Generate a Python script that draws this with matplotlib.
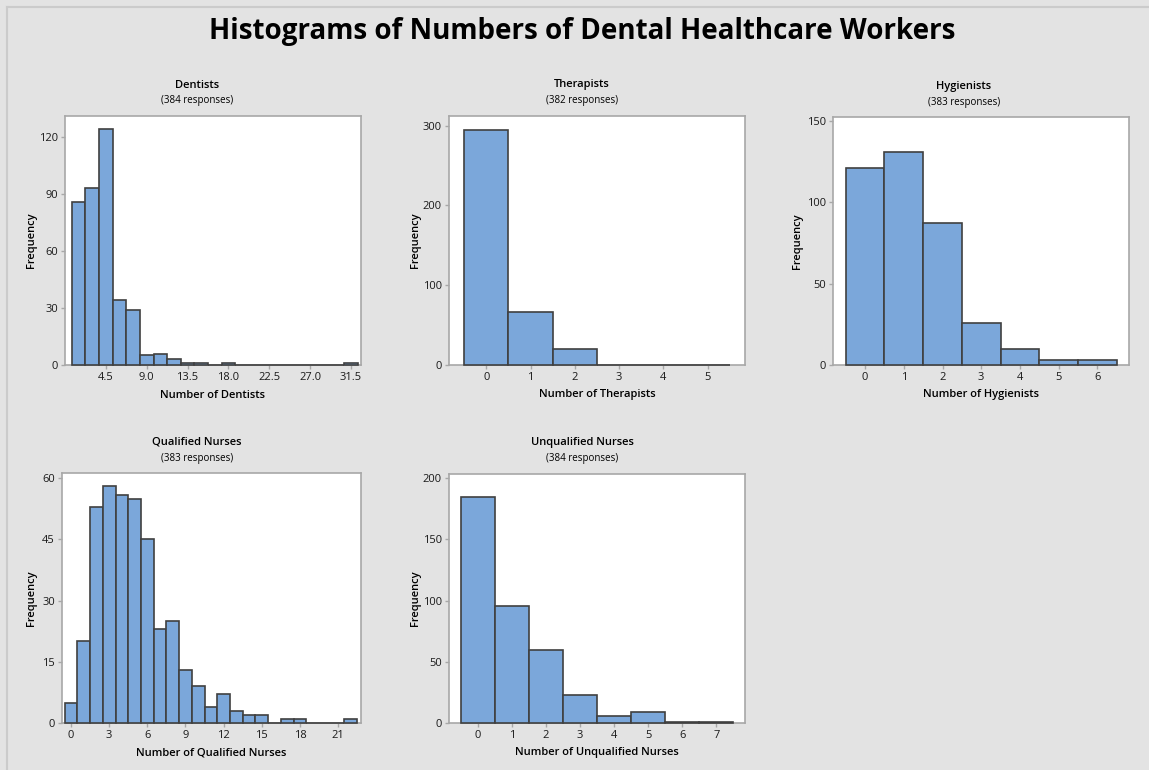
import matplotlib
matplotlib.use('Agg')
import matplotlib.pyplot as plt
from matplotlib.lines import Line2D

plt.rcParams['font.family'] = ['Open Sans', 'DejaVu Sans']

# Bin midpoints and counts
dentists_bins = [1.5, 3.0, 4.5, 6.0, 7.5, 9.0, 10.5, 12.0, 13.5, 15.0, 16.5, 18.0,
                 19.5, 21.0, 22.5, 24.0, 25.5, 27.0, 28.5, 30.0, 31.5]
dentists_counts = [86, 93, 124, 34, 29, 5, 6, 3, 1, 1, 0, 1, 0, 0, 0, 0, 0, 0, 0, 0, 1]

therapists_bins = [0, 1, 2, 3, 4, 5]
therapists_counts = [295, 67, 20, 0, 0, 0]

hygienists_bins = [0, 1, 2, 3, 4, 5, 6]
hygienists_counts = [121, 131, 87, 26, 10, 3, 3]

qualified_bins = list(range(0, 23))
qualified_counts = [5, 20, 53, 58, 56, 55, 45, 23, 25, 13, 9, 4, 7, 3, 2, 2, 0, 1, 1, 0, 0, 0, 1]

unqualified_bins = [0, 1, 2, 3, 4, 5, 6, 7]
unqualified_counts = [185, 96, 60, 23, 6, 9, 1, 1]

titles = ['Dentists', 'Therapists', 'Hygienists', 'Qualified Nurses', 'Unqualified Nurses']
responses = [384, 382, 383, 383, 384]
xlabels = ['Number of Dentists', 'Number of Therapists', 'Number of Hygienists',
           'Number of Qualified Nurses', 'Number of Unqualified Nurses']

W, H = 1149, 770
BG = '#e3e3e3'
BAR = '#7ba7da'
EDGE = '#404040'
FRAME = '#a8a8a8'

fig = plt.figure(figsize=(W / 100, H / 100), dpi=100, facecolor=BG)

# thin border along top and left edge
fig.add_artist(Line2D([7 / W, 1], [1 - 7 / H, 1 - 7 / H], color='#cbcbcb', lw=1.5))
fig.add_artist(Line2D([7 / W, 7 / W], [0, 1 - 7 / H], color='#cbcbcb', lw=1.5))

fig.text(582 / W, 1 - 32 / H, 'Histograms of Numbers of Dental Healthcare Workers',
         ha='center', va='center', fontsize=20, fontweight='bold')

# (left, right, top, bottom) in pixels
boxes = [(65, 361, 116, 365), (449, 745, 116, 365), (833, 1129, 117, 365),
         (62, 361, 473, 723), (449, 745, 474, 723)]
title_x = [197, 582, 964, 197, 582]
ylab_x = [32, 415, 798, 32, 415]

panels = [
    (dentists_bins, dentists_counts, 1.5, (0, 32.6), (0, 131), [0, 30, 60, 90, 120],
     [4.5, 9.0, 13.5, 18.0, 22.5, 27.0, 31.5], '{:.1f}'),
    (therapists_bins, therapists_counts, 1, (-0.84, 5.84), (0, 312), [0, 100, 200, 300],
     [0, 1, 2, 3, 4, 5], '{:d}'),
    (hygienists_bins, hygienists_counts, 1, (-0.83, 6.82), (0, 152.3), [0, 50, 100, 150],
     [0, 1, 2, 3, 4, 5, 6], '{:d}'),
    (qualified_bins, qualified_counts, 1, (-0.71, 22.8), (0, 61.3), [0, 15, 30, 45, 60],
     [0, 3, 6, 9, 12, 15, 18, 21], '{:d}'),
    (unqualified_bins, unqualified_counts, 1, (-0.85, 7.84), (0, 203.5), [0, 50, 100, 150, 200],
     [0, 1, 2, 3, 4, 5, 6, 7], '{:d}'),
]

for i, (bins, counts, width, xlim, ylim, yticks, xticks, fmt) in enumerate(panels):
    l, r, t, b = boxes[i]
    ax = fig.add_axes([l / W, 1 - b / H, (r - l) / W, (b - t) / H])
    ax.set_facecolor('white')
    ax.bar(bins, counts, width=width, color=BAR, edgecolor=EDGE, linewidth=1.2,
           zorder=3, clip_on=False)
    ax.set_xlim(*xlim)
    ax.set_ylim(*ylim)
    ax.set_yticks(yticks)
    ax.set_xticks(xticks)
    ax.set_xticklabels([fmt.format(v) for v in xticks])
    for s in ax.spines.values():
        s.set_color(FRAME)
        s.set_linewidth(1.2)
    ax.tick_params(direction='out', length=3, width=1, color=FRAME, labelsize=8,
                   pad=2, labelcolor='#1a1a1a')

    fig.text(title_x[i] / W, 1 - (t - 31) / H, titles[i], ha='center', va='center',
             fontsize=8, fontweight='semibold')
    fig.text(title_x[i] / W, 1 - (t - 15) / H, '(%d responses)' % responses[i],
             ha='center', va='center', fontsize=7)
    fig.text((l + r) / 2 / W, 1 - (b + 30) / H, xlabels[i], ha='center', va='center',
             fontsize=8, fontweight='semibold')
    fig.text(ylab_x[i] / W, 1 - (t + b) / 2 / H, 'Frequency', ha='center', va='center',
             rotation=90, fontsize=8, fontweight='semibold')

fig.savefig('out.png', dpi=100, facecolor=BG)
